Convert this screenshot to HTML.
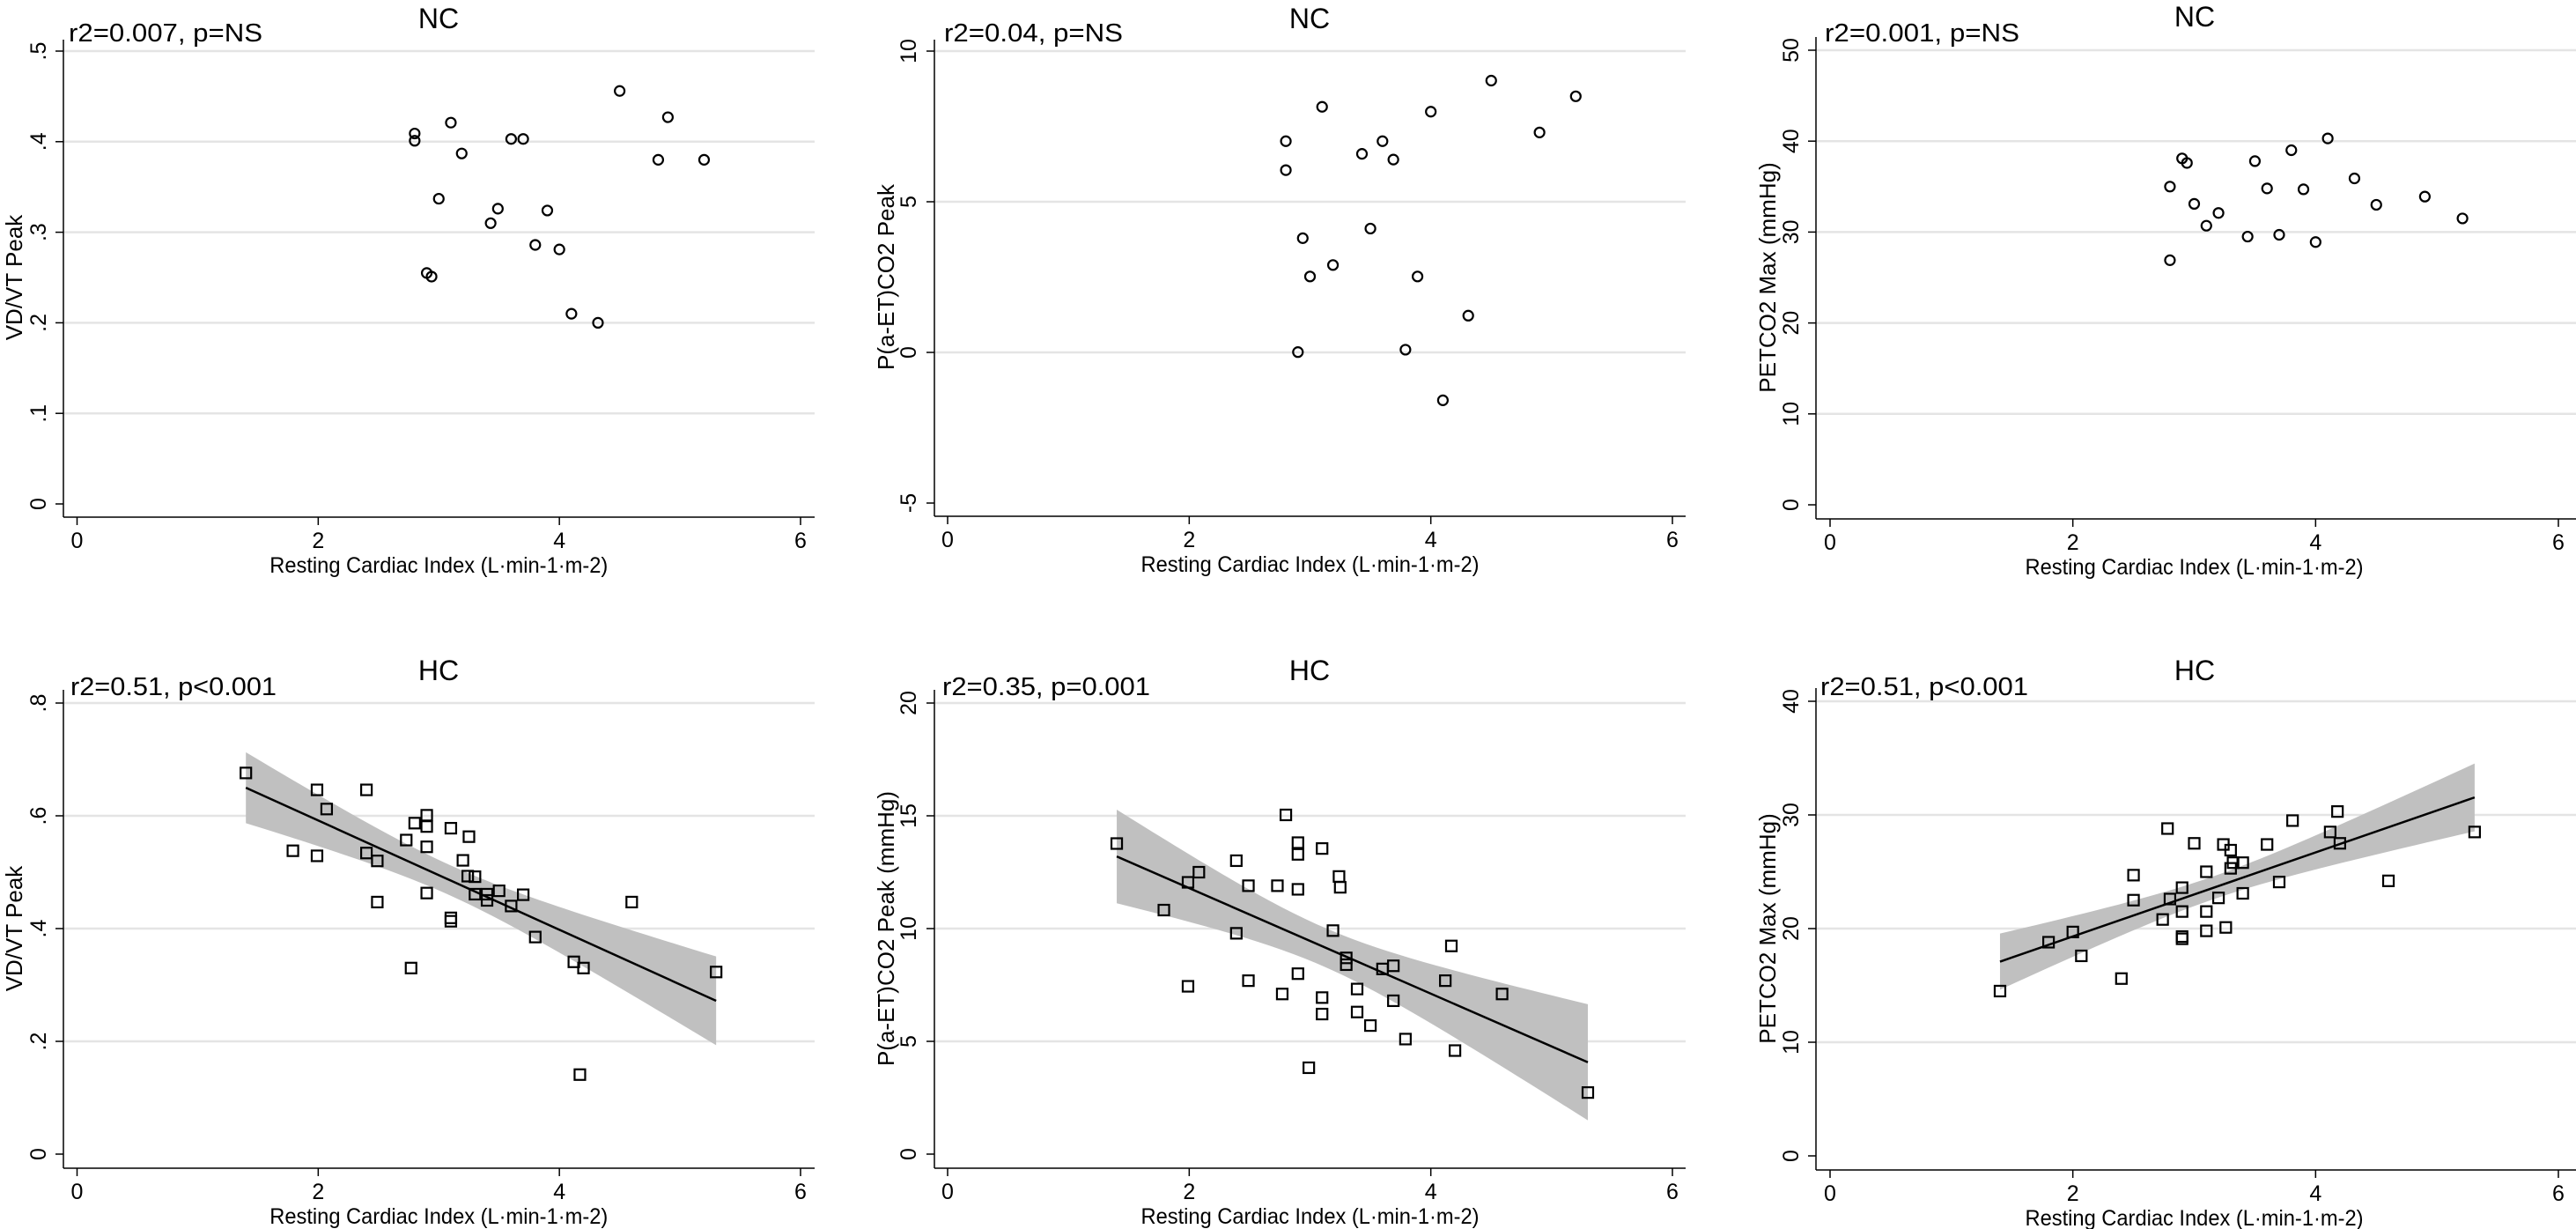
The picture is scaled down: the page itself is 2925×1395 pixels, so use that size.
<!DOCTYPE html>
<html><head><meta charset="utf-8"><style>
html,body{margin:0;padding:0;background:#fff;}
svg{display:block;}
text{font-family:"Liberation Sans",Arial,sans-serif;fill:#000;}
</style></head>
<body>
<svg id="fig" width="2925" height="1395" viewBox="0 0 2925 1395" xmlns="http://www.w3.org/2000/svg">
<rect width="2925" height="1395" fill="#fff"/>
</svg>
<script>
// ---- data ----
const p1X=[2.80,2.80,2.90,2.94,3.00,3.10,3.19,3.43,3.49,3.60,3.70,3.80,3.90,4.00,4.10,4.32,4.50,4.82,4.90,5.20];
const p1Y=[0.409,0.401,0.255,0.251,0.337,0.421,0.387,0.310,0.326,0.403,0.403,0.286,0.324,0.281,0.210,0.200,0.456,0.380,0.427,0.380];
const p2X=[2.80,2.80,2.90,2.94,3.00,3.10,3.19,3.43,3.50,3.60,3.69,3.79,3.89,4.00,4.10,4.31,4.50,4.90,5.20];
const p2Y=[7.01,6.05,0.01,3.79,2.52,8.15,2.90,6.59,4.11,7.01,6.40,0.09,2.52,7.99,-1.59,1.22,9.02,7.30,8.50];
const p3X=[2.80,2.80,2.90,2.94,3.00,3.10,3.20,3.44,3.50,3.60,3.70,3.80,3.90,4.00,4.10,4.32,4.50,4.90,5.21];
const p3Y=[35.0,26.9,38.1,37.6,33.1,30.7,32.1,29.5,37.8,34.8,29.7,39.0,34.7,28.9,40.3,35.9,33.0,33.9,31.5];
const p4X=[1.40,1.79,1.99,1.99,2.07,2.40,2.40,2.49,2.49,2.73,2.77,2.80,2.90,2.90,2.90,2.90,3.10,3.10,3.10,3.20,3.24,3.25,3.30,3.30,3.40,3.40,3.50,3.60,3.70,3.80,4.12,4.20,4.17,4.60,5.30];
const p4Y=[0.676,0.538,0.646,0.529,0.612,0.646,0.534,0.520,0.447,0.557,0.330,0.587,0.601,0.581,0.545,0.463,0.578,0.419,0.413,0.521,0.493,0.563,0.492,0.461,0.461,0.450,0.467,0.440,0.460,0.385,0.341,0.330,0.141,0.447,0.323];
const p5X=[1.40,1.79,1.99,1.99,2.08,2.39,2.39,2.49,2.49,2.73,2.77,2.80,2.90,2.90,2.90,2.90,2.99,3.10,3.10,3.10,3.19,3.24,3.25,3.30,3.30,3.39,3.39,3.50,3.60,3.69,3.69,3.79,4.12,4.17,4.20,4.59,5.30];
const p5Y=[13.77,10.82,12.05,7.44,12.50,13.01,9.79,11.90,7.69,11.90,7.10,15.04,13.81,13.29,11.74,8.00,3.83,13.55,6.94,6.21,9.91,12.31,11.83,8.70,8.40,7.32,6.30,5.70,8.21,8.35,6.80,5.10,7.69,9.23,4.59,7.10,2.73];
const p6X=[1.40,1.80,2.00,2.07,2.40,2.50,2.50,2.74,2.78,2.80,2.90,2.90,2.90,2.90,3.00,3.10,3.10,3.10,3.20,3.24,3.26,3.30,3.30,3.32,3.40,3.40,3.60,3.70,3.81,4.12,4.18,4.20,4.60,5.31];
const p6Y=[14.5,18.8,19.7,17.6,15.6,24.7,22.5,20.8,28.8,22.6,23.6,21.5,19.3,19.1,27.5,25.0,21.5,19.8,22.7,27.4,20.1,26.9,25.3,25.8,25.8,23.1,27.4,24.1,29.5,28.5,30.3,27.5,24.2,28.5];
const xTicks=[0,2,4,6];
const p1YTicks=[0,0.1,0.2,0.3,0.4,0.5];
const p1YLabels=["0",".1",".2",".3",".4",".5"];
const p2YTicks=[-5,0,5,10];
const p2YLabels=["-5","0","5","10"];
const p3YTicks=[0,10,20,30,40,50];
const p3YLabels=["0","10","20","30","40","50"];
const p4YTicks=[0,0.2,0.4,0.6,0.8];
const p4YLabels=["0",".2",".4",".6",".8"];
const p5YTicks=[0,5,10,15,20];
const p5YLabels=["0","5","10","15","20"];
const p6YTicks=[0,10,20,30,40];
const p6YLabels=["0","10","20","30","40"];

const NS="http://www.w3.org/2000/svg";
const svg=document.getElementById('fig');
function mk(tag,attrs,parent){const e=document.createElementNS(NS,tag);for(const k in attrs)e.setAttribute(k,attrs[k]);(parent||svg).appendChild(e);return e;}

const panels=[
 {id:'p1',xs:p1X,ys:p1Y,yt:p1YTicks,yl:p1YLabels,ymin:0,ymax:0.5,fit:false,marker:'o',
  x0:87.5,x6:909,axL:72,grEnd:925,yBot:572,yTop:58,axB:587,axT:45,
  title:'NC',titleX:498,titleY:32,ann:'r2=0.007, p=NS',annX:78,annY:47,annW:220,
  ylab:'VD/VT Peak',ylabX:16,ytX:44},
 {id:'p2',xs:p2X,ys:p2Y,yt:p2YTicks,yl:p2YLabels,ymin:-5,ymax:10,fit:false,marker:'o',
  x0:1076,x6:1899,axL:1061,grEnd:1914,yBot:571,yTop:58,axB:586,axT:45,
  title:'NC',titleX:1487,titleY:32,ann:'r2=0.04, p=NS',annX:1072,annY:47,annW:203,
  ylab:'P(a-ET)CO2 Peak',ylabX:1006,ytX:1032},
 {id:'p3',xs:p3X,ys:p3Y,yt:p3YTicks,yl:p3YLabels,ymin:0,ymax:50,fit:false,marker:'o',
  x0:2078,x6:2905,axL:2062,grEnd:2925,yBot:573,yTop:57,axB:589,axT:42,
  title:'NC',titleX:2492,titleY:30,ann:'r2=0.001, p=NS',annX:2072,annY:47,annW:221,
  ylab:'PETCO2 Max (mmHg)',ylabX:2007,ytX:2034},
 {id:'p4',xs:p4X,ys:p4Y,yt:p4YTicks,yl:p4YLabels,ymin:0,ymax:0.8,fit:true,marker:'s',
  x0:87.5,x6:909,axL:72,grEnd:925,yBot:1310,yTop:798,axB:1326,axT:783,
  title:'HC',titleX:498,titleY:772,ann:'r2=0.51, p<0.001',annX:80,annY:789,annW:234,
  ylab:'VD/VT Peak',ylabX:16,ytX:44},
 {id:'p5',xs:p5X,ys:p5Y,yt:p5YTicks,yl:p5YLabels,ymin:0,ymax:20,fit:true,marker:'s',
  x0:1076,x6:1899,axL:1061,grEnd:1914,yBot:1310,yTop:798,axB:1326,axT:783,
  title:'HC',titleX:1487,titleY:772,ann:'r2=0.35, p=0.001',annX:1070,annY:789,annW:236,
  ylab:'P(a-ET)CO2 Peak (mmHg)',ylabX:1006,ytX:1032},
 {id:'p6',xs:p6X,ys:p6Y,yt:p6YTicks,yl:p6YLabels,ymin:0,ymax:40,fit:true,marker:'s',
  x0:2078,x6:2905,axL:2062,grEnd:2925,yBot:1312,yTop:796,axB:1328,axT:781,
  title:'HC',titleX:2492,titleY:772,ann:'r2=0.51, p<0.001',annX:2067,annY:789,annW:236,
  ylab:'PETCO2 Max (mmHg)',ylabX:2007,ytX:2034}
];

panels.forEach(P=>{
  const g=mk('g',{});
  
  
  const sx=v=>P.x0+(v/6)*(P.x6-P.x0);
  const sy=v=>P.yBot-(v-P.ymin)/(P.ymax-P.ymin)*(P.yBot-P.yTop);
  // grid + y ticks
  P.yt.forEach((t,i)=>{
    const y=sy(t);
    if(i>0){const gl=mk('line',{x1:P.axL,x2:P.grEnd,y1:y,y2:y,stroke:'#e4e4e4','stroke-width':2.5},g);
      }
    const tk=mk('line',{x1:P.axL-9,x2:P.axL,y1:y,y2:y,stroke:'#000','stroke-width':1.5},g);
    
    const tl=mk('text',{x:P.ytX,y:y,'font-size':25,'text-anchor':'middle','dominant-baseline':'central',transform:`rotate(-90 ${P.ytX} ${y})`},g);
    tl.textContent=P.yl[i];
    
  });
  // axes
  const ya=mk('line',{x1:P.axL,x2:P.axL,y1:P.axT,y2:P.axB,stroke:'#000','stroke-width':1.5},g);
  
  const xa=mk('line',{x1:P.axL,x2:P.grEnd,y1:P.axB,y2:P.axB,stroke:'#000','stroke-width':1.5},g);
  
  xTicks.forEach(t=>{
    const x=sx(t);
    const tk=mk('line',{x1:x,x2:x,y1:P.axB,y2:P.axB+9,stroke:'#000','stroke-width':1.5},g);
    
    const tl=mk('text',{x:x,y:P.axB+35,'font-size':25,'text-anchor':'middle'},g);
    tl.textContent=String(t);
    
  });
  // x title
  const xt=mk('text',{x:(P.x0+P.x6)/2,y:P.axB+63,'font-size':25,'text-anchor':'middle',textLength:384,lengthAdjust:'spacingAndGlyphs'},g);
  xt.textContent='Resting Cardiac Index (L·min-1·m-2)';
  
  // y title
  const yc=(P.yTop+P.yBot)/2;
  const ytl=mk('text',{x:P.ylabX,y:yc,'font-size':26,'text-anchor':'middle','dominant-baseline':'central',transform:`rotate(-90 ${P.ylabX} ${yc})`},g);
  ytl.textContent=P.ylab;
  
  // title & annotation
  const ti=mk('text',{x:P.titleX,y:P.titleY,'font-size':32,'text-anchor':'middle'},g);
  ti.textContent=P.title;
  
  const an=mk('text',{x:P.annX,y:P.annY,'font-size':29,textLength:P.annW,lengthAdjust:'spacingAndGlyphs'},g);
  an.textContent=P.ann;
  
  // fit + CI
  if(P.fit){
    const n=P.xs.length;
    const mx=P.xs.reduce((a,b)=>a+b,0)/n, my=P.ys.reduce((a,b)=>a+b,0)/n;
    let sxx=0,sxy=0;P.xs.forEach((x,i)=>{sxx+=(x-mx)**2;sxy+=(x-mx)*(P.ys[i]-my);});
    const b=sxy/sxx,a=my-b*mx;
    let sse=0;P.xs.forEach((x,i)=>{sse+=(P.ys[i]-a-b*x)**2;});
    const s=Math.sqrt(sse/(n-2)),tq=2.03;
    const xmin=Math.min(...P.xs),xmax=Math.max(...P.xs);
    const up=[],lo=[];
    for(let k=0;k<=40;k++){const x=xmin+(xmax-xmin)*k/40;const h=tq*s*Math.sqrt(1/n+(x-mx)**2/sxx);
      up.push(sx(x)+','+sy(a+b*x+h));lo.unshift(sx(x)+','+sy(a+b*x-h));}
    const band=mk('polygon',{points:up.concat(lo).join(' '),fill:'#c0c0c0',stroke:'none'},g);
    
    const fl=mk('line',{x1:sx(xmin),y1:sy(a+b*xmin),x2:sx(xmax),y2:sy(a+b*xmax),stroke:'#000','stroke-width':2.5},g);
    
  }
  // points
  P.xs.forEach((x,i)=>{
    const cx=sx(x),cy=sy(P.ys[i]);
    let m;
    if(P.marker==='o') m=mk('circle',{cx:cx,cy:cy,r:5.5,fill:'none',stroke:'#000','stroke-width':2.2},g);
    else m=mk('rect',{x:cx-6,y:cy-6,width:12,height:12,fill:'none',stroke:'#000','stroke-width':2.2},g);
    
    
  });
});
</script>
</body></html>
